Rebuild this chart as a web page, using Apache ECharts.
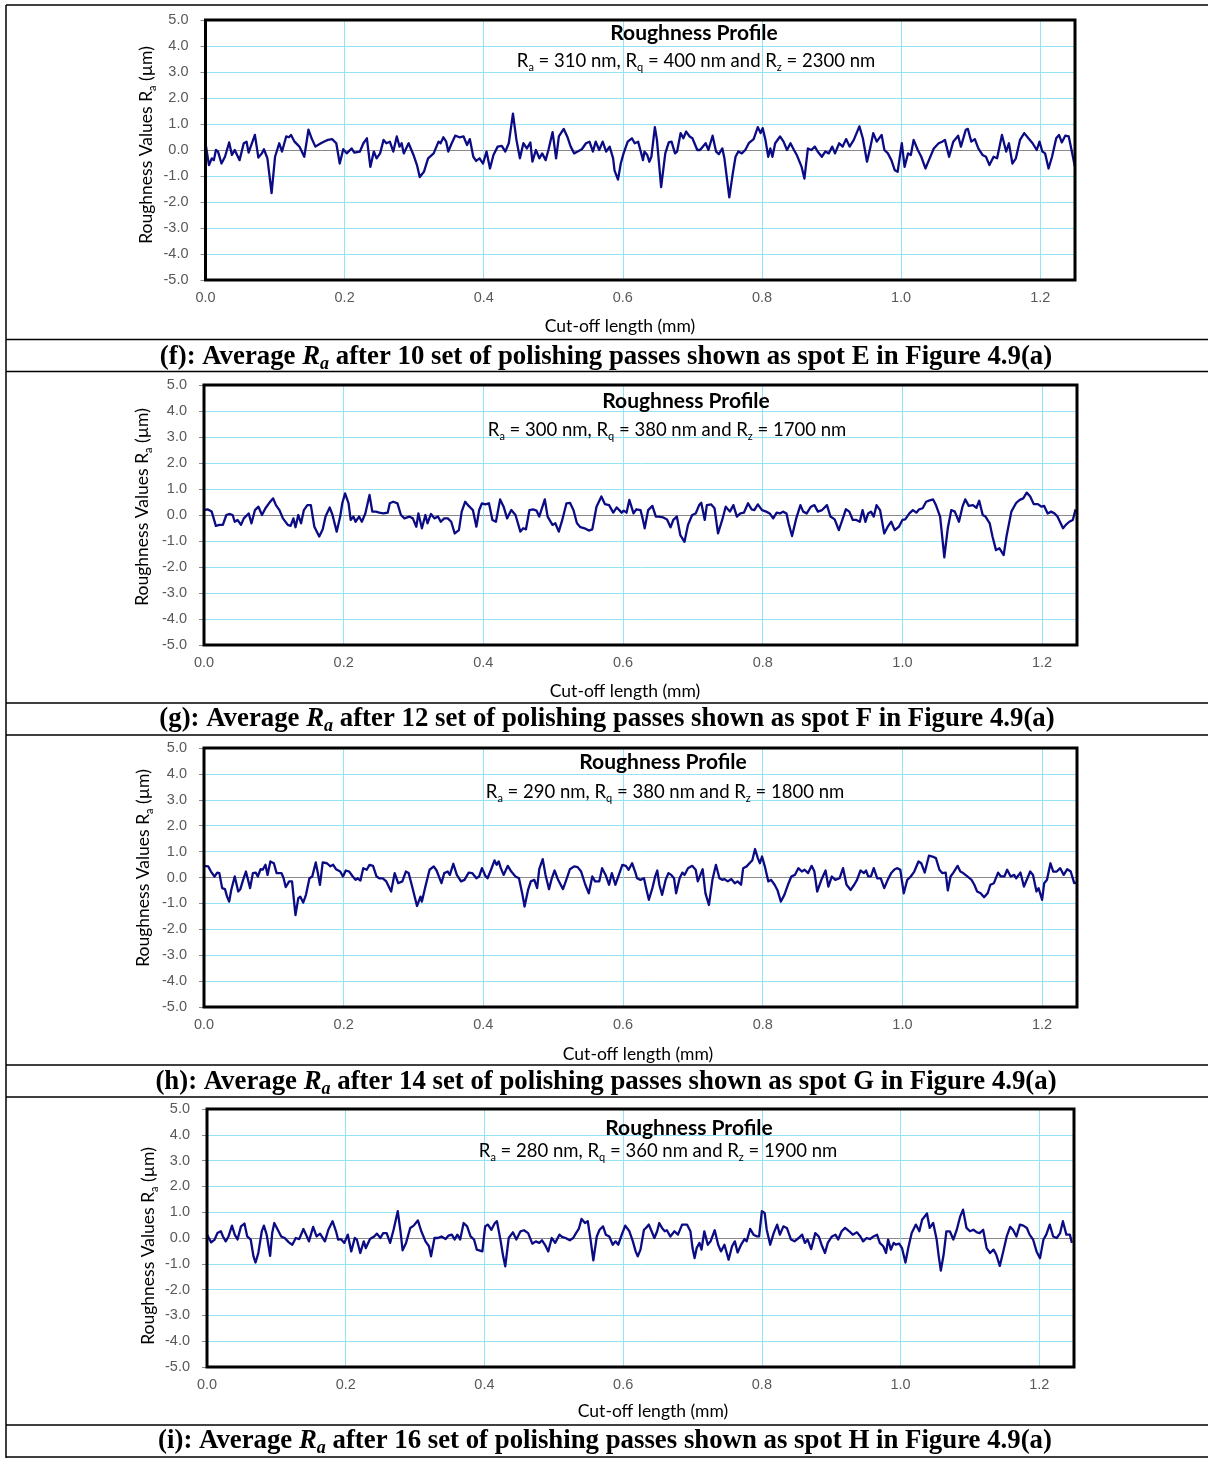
<!DOCTYPE html>
<html>
<head>
<meta charset="utf-8">
<script src="https://cdn.jsdelivr.net/npm/echarts@6/dist/echarts.min.js"></script>
<style>
  html, body { margin: 0; padding: 0; background: #fff; }
  #chart { width: 1208px; height: 1458px; }
</style>
</head>
<body>
<div id="chart"></div>
<script>
// Surface roughness profiles: [cut-off length (mm), roughness (µm)]
const spotE = [
  [0.000,0.26],[0.005,-0.58],[0.009,-0.32],[0.012,-0.39],[0.015,0.00],[0.018,-0.06],[0.023,-0.52],[0.028,-0.26],[0.034,0.29],[0.038,-0.19],
  [0.042,0.00],[0.049,-0.39],[0.055,0.26],[0.059,0.32],[0.062,-0.10],[0.065,0.13],[0.071,0.58],[0.076,-0.29],[0.081,-0.13],[0.084,0.03],
  [0.089,-0.32],[0.095,-1.66],[0.100,-0.26],[0.106,0.26],[0.110,-0.06],[0.116,0.52],[0.120,0.49],[0.123,0.58],[0.128,0.32],[0.135,0.13],
  [0.142,-0.26],[0.148,0.78],[0.153,0.42],[0.158,0.13],[0.164,0.23],[0.170,0.32],[0.176,0.39],[0.182,0.42],[0.188,0.26],[0.193,-0.52],
  [0.198,0.03],[0.203,-0.13],[0.210,0.06],[0.214,-0.10],[0.222,-0.06],[0.227,0.26],[0.232,0.45],[0.237,-0.65],[0.242,-0.06],[0.246,-0.32],
  [0.251,-0.13],[0.256,0.39],[0.260,0.26],[0.265,0.32],[0.270,-0.06],[0.275,0.52],[0.279,0.13],[0.282,0.26],[0.285,-0.13],[0.292,0.26],
  [0.299,-0.19],[0.304,-0.58],[0.308,-1.04],[0.314,-0.84],[0.320,-0.32],[0.328,-0.13],[0.335,0.32],[0.338,0.26],[0.342,0.49],[0.346,0.32],
  [0.349,-0.06],[0.354,0.26],[0.359,0.55],[0.365,0.49],[0.371,0.52],[0.376,0.19],[0.380,0.42],[0.385,-0.26],[0.389,-0.42],[0.394,-0.32],
  [0.399,-0.52],[0.404,-0.06],[0.409,-0.71],[0.414,-0.19],[0.420,0.13],[0.426,0.16],[0.431,-0.06],[0.436,0.26],[0.442,1.40],[0.447,0.39],
  [0.452,-0.32],[0.457,0.26],[0.462,0.06],[0.467,0.29],[0.470,-0.45],[0.475,0.00],[0.480,-0.32],[0.484,-0.13],[0.489,-0.39],[0.493,0.00],
  [0.499,0.69],[0.504,-0.32],[0.508,0.52],[0.515,0.81],[0.520,0.52],[0.525,0.13],[0.530,-0.13],[0.535,-0.06],[0.541,0.03],[0.547,0.26],
  [0.552,0.32],[0.557,-0.06],[0.561,0.32],[0.566,0.00],[0.571,0.32],[0.576,-0.06],[0.581,0.13],[0.586,-0.32],[0.588,-0.78],[0.593,-1.14],
  [0.597,-0.52],[0.601,-0.13],[0.607,0.32],[0.613,0.45],[0.617,0.26],[0.622,0.32],[0.629,-0.39],[0.631,-0.06],[0.635,-0.19],[0.638,-0.45],
  [0.641,-0.26],[0.646,0.88],[0.649,0.39],[0.655,-1.43],[0.661,-0.13],[0.666,0.29],[0.670,0.32],[0.675,-0.13],[0.678,-0.06],[0.683,0.65],
  [0.687,0.45],[0.691,0.71],[0.696,0.52],[0.700,0.45],[0.707,0.00],[0.711,0.00],[0.719,0.26],[0.723,0.00],[0.729,0.55],[0.734,-0.06],
  [0.738,-0.16],[0.743,0.06],[0.746,-0.32],[0.753,-1.82],[0.758,-0.91],[0.762,-0.26],[0.766,-0.06],[0.771,-0.13],[0.776,0.00],[0.781,0.26],
  [0.788,0.42],[0.794,0.88],[0.798,0.65],[0.801,0.84],[0.805,0.39],[0.809,-0.26],[0.812,0.06],[0.815,-0.26],[0.819,0.26],[0.826,0.52],
  [0.831,0.32],[0.836,0.00],[0.841,0.26],[0.846,0.00],[0.850,-0.19],[0.857,-0.65],[0.861,-1.10],[0.866,0.06],[0.871,0.00],[0.876,0.13],
  [0.880,-0.06],[0.886,-0.26],[0.891,-0.06],[0.896,-0.13],[0.901,0.13],[0.905,-0.13],[0.911,0.26],[0.916,0.13],[0.921,0.42],[0.926,0.13],
  [0.932,0.39],[0.940,0.91],[0.945,0.45],[0.951,-0.45],[0.956,0.13],[0.960,0.65],[0.965,0.32],[0.972,0.58],[0.976,0.00],[0.981,-0.13],
  [0.986,-0.39],[0.991,-0.78],[0.995,-0.84],[1.001,0.26],[1.005,-0.65],[1.010,-0.13],[1.014,-0.19],[1.018,0.39],[1.024,0.00],[1.029,-0.26],
  [1.035,-0.71],[1.040,-0.39],[1.047,0.06],[1.054,0.26],[1.059,0.32],[1.063,0.39],[1.069,-0.26],[1.075,0.32],[1.082,0.55],[1.086,0.13],
  [1.093,0.78],[1.096,0.81],[1.101,0.32],[1.106,0.42],[1.111,0.06],[1.117,-0.19],[1.122,-0.26],[1.127,-0.58],[1.133,-0.26],[1.138,-0.32],
  [1.145,0.58],[1.151,-0.06],[1.155,0.26],[1.160,-0.52],[1.165,-0.32],[1.171,0.39],[1.177,0.65],[1.183,0.45],[1.189,0.26],[1.195,0.00],
  [1.199,0.32],[1.203,-0.06],[1.207,-0.13],[1.212,-0.71],[1.217,-0.26],[1.223,0.45],[1.227,0.58],[1.231,0.29],[1.236,0.55],[1.241,0.52],
  [1.245,0.00],[1.250,-0.65]
];

const spotF = [
  [0.000,0.19],[0.005,0.22],[0.011,0.13],[0.017,-0.42],[0.022,-0.38],[0.027,-0.38],[0.032,0.00],[0.036,0.04],[0.041,0.00],[0.044,-0.26],
  [0.048,-0.19],[0.053,-0.38],[0.057,-0.13],[0.064,0.06],[0.068,-0.32],[0.073,0.19],[0.078,0.32],[0.083,0.00],[0.088,0.26],[0.093,0.45],
  [0.099,0.64],[0.103,0.38],[0.108,0.19],[0.113,-0.13],[0.120,-0.38],[0.124,-0.42],[0.128,-0.13],[0.131,-0.47],[0.135,0.00],[0.139,-0.32],
  [0.143,0.19],[0.148,0.38],[0.153,0.38],[0.158,-0.45],[0.165,-0.83],[0.170,-0.55],[0.174,-0.06],[0.180,0.29],[0.184,0.00],[0.190,-0.64],
  [0.195,-0.06],[0.198,0.45],[0.202,0.83],[0.207,0.45],[0.210,-0.19],[0.214,-0.06],[0.217,-0.26],[0.222,-0.06],[0.226,-0.26],[0.231,0.06],
  [0.237,0.77],[0.241,0.13],[0.246,0.13],[0.251,0.09],[0.257,0.06],[0.263,0.09],[0.266,0.45],[0.271,0.51],[0.277,0.45],[0.282,0.00],
  [0.287,-0.13],[0.294,-0.06],[0.299,-0.13],[0.304,-0.45],[0.307,0.06],[0.312,-0.51],[0.317,0.00],[0.320,-0.32],[0.325,0.04],[0.330,-0.13],
  [0.335,-0.06],[0.339,-0.26],[0.344,-0.13],[0.349,-0.13],[0.354,-0.26],[0.359,-0.71],[0.365,-0.58],[0.369,0.13],[0.374,0.51],[0.379,0.35],
  [0.385,0.19],[0.390,-0.45],[0.394,0.19],[0.398,0.45],[0.403,0.41],[0.408,0.45],[0.413,-0.19],[0.418,-0.26],[0.424,0.60],[0.429,0.32],
  [0.434,-0.13],[0.440,0.19],[0.446,0.00],[0.453,-0.64],[0.457,-0.51],[0.461,-0.55],[0.466,0.19],[0.471,0.22],[0.476,0.17],[0.480,-0.06],
  [0.488,0.60],[0.492,-0.06],[0.499,-0.38],[0.503,-0.32],[0.508,-0.64],[0.513,-0.19],[0.519,0.45],[0.524,0.47],[0.529,0.19],[0.534,-0.32],
  [0.539,-0.47],[0.545,-0.51],[0.551,-0.60],[0.556,-0.55],[0.562,0.32],[0.569,0.71],[0.574,0.42],[0.580,0.38],[0.586,0.09],[0.591,0.29],
  [0.598,0.09],[0.601,0.17],[0.605,0.09],[0.609,0.58],[0.615,0.06],[0.619,0.22],[0.625,0.19],[0.628,-0.13],[0.631,-0.51],[0.636,0.19],
  [0.642,0.35],[0.647,-0.06],[0.651,-0.06],[0.657,-0.09],[0.663,-0.17],[0.668,-0.47],[0.672,-0.19],[0.677,-0.06],[0.682,-0.77],[0.688,-1.03],
  [0.693,-0.38],[0.699,0.00],[0.704,0.06],[0.709,0.38],[0.712,0.47],[0.717,-0.19],[0.720,0.38],[0.726,0.41],[0.731,0.26],[0.736,-0.71],
  [0.742,-0.19],[0.747,0.32],[0.753,0.13],[0.758,0.38],[0.763,-0.06],[0.768,0.06],[0.773,0.09],[0.779,0.45],[0.784,0.22],[0.788,0.19],
  [0.793,0.41],[0.799,0.19],[0.805,0.13],[0.810,0.06],[0.815,-0.13],[0.820,0.09],[0.825,0.06],[0.829,0.13],[0.834,0.06],[0.837,-0.32],
  [0.842,-0.81],[0.848,-0.13],[0.854,0.38],[0.858,0.13],[0.863,0.06],[0.869,0.32],[0.874,0.38],[0.879,0.13],[0.885,0.19],[0.892,0.38],
  [0.897,-0.06],[0.903,-0.17],[0.909,-0.58],[0.914,-0.19],[0.919,0.22],[0.924,0.13],[0.929,-0.19],[0.934,-0.19],[0.939,-0.26],[0.943,0.19],
  [0.947,-0.26],[0.951,0.06],[0.955,0.13],[0.959,-0.06],[0.963,0.38],[0.968,0.19],[0.974,-0.71],[0.979,-0.45],[0.984,-0.26],[0.989,-0.58],
  [0.995,-0.45],[1.000,-0.19],[1.004,-0.17],[1.010,0.06],[1.015,0.19],[1.020,0.09],[1.024,0.22],[1.029,0.26],[1.034,0.51],[1.038,0.55],
  [1.044,0.60],[1.048,0.38],[1.054,-0.06],[1.057,-0.83],[1.060,-1.63],[1.065,-0.51],[1.070,0.19],[1.075,0.13],[1.081,-0.26],[1.086,0.32],
  [1.090,0.60],[1.095,0.35],[1.101,0.38],[1.106,0.28],[1.110,0.55],[1.115,0.00],[1.119,-0.06],[1.125,-0.32],[1.129,-0.83],[1.134,-1.35],
  [1.139,-1.28],[1.145,-1.54],[1.149,-0.83],[1.156,0.13],[1.163,0.47],[1.168,0.58],[1.173,0.64],[1.178,0.86],[1.183,0.71],[1.188,0.42],
  [1.194,0.42],[1.199,0.32],[1.203,0.35],[1.208,0.06],[1.213,0.13],[1.218,0.06],[1.222,-0.06],[1.230,-0.51],[1.234,-0.38],[1.239,-0.26],
  [1.244,-0.19],[1.248,0.22]
];

const spotG = [
  [0.000,0.45],[0.006,0.43],[0.010,0.23],[0.015,0.04],[0.019,0.19],[0.022,0.17],[0.026,-0.41],[0.030,-0.45],[0.033,-0.74],[0.036,-0.93],
  [0.039,-0.48],[0.044,0.04],[0.049,-0.54],[0.052,-0.45],[0.056,-0.09],[0.060,0.23],[0.063,-0.09],[0.066,-0.41],[0.070,0.17],[0.074,0.19],
  [0.077,0.04],[0.081,0.32],[0.084,0.30],[0.088,0.49],[0.091,0.10],[0.095,0.62],[0.100,0.55],[0.104,0.17],[0.111,0.17],[0.114,-0.03],
  [0.117,-0.37],[0.122,-0.15],[0.126,-0.15],[0.131,-1.45],[0.135,-0.80],[0.138,-0.74],[0.142,-0.97],[0.146,-0.67],[0.151,-0.03],[0.155,0.04],
  [0.160,0.58],[0.163,0.17],[0.166,-0.28],[0.170,0.58],[0.176,0.55],[0.181,0.43],[0.185,0.49],[0.189,0.32],[0.195,0.23],[0.199,0.04],
  [0.203,0.27],[0.208,0.23],[0.213,0.04],[0.217,-0.09],[0.220,-0.03],[0.224,-0.12],[0.228,0.36],[0.233,0.30],[0.237,0.49],[0.242,0.45],
  [0.247,0.04],[0.251,-0.03],[0.256,-0.03],[0.261,-0.15],[0.268,-0.54],[0.273,0.17],[0.278,-0.22],[0.284,-0.15],[0.289,0.23],[0.293,0.17],
  [0.298,-0.35],[0.305,-1.10],[0.310,-0.74],[0.312,-0.93],[0.317,-0.35],[0.323,0.30],[0.329,0.43],[0.333,0.27],[0.340,-0.22],[0.344,0.17],
  [0.349,0.23],[0.352,0.10],[0.357,0.53],[0.362,0.10],[0.368,-0.15],[0.373,-0.09],[0.379,0.19],[0.384,0.17],[0.390,-0.03],[0.394,0.04],
  [0.398,0.36],[0.403,0.06],[0.406,-0.03],[0.411,0.30],[0.416,0.66],[0.419,0.49],[0.422,0.62],[0.425,0.36],[0.429,0.10],[0.435,0.45],
  [0.440,0.23],[0.446,0.04],[0.451,-0.03],[0.456,-0.67],[0.459,-1.12],[0.464,-0.48],[0.468,-0.15],[0.473,-0.09],[0.477,-0.41],[0.480,0.32],
  [0.485,0.71],[0.489,0.10],[0.494,-0.45],[0.498,-0.03],[0.502,0.27],[0.507,-0.09],[0.514,-0.45],[0.518,-0.15],[0.524,0.32],[0.530,0.43],
  [0.535,0.40],[0.540,0.23],[0.546,-0.28],[0.551,-0.61],[0.556,0.04],[0.560,-0.15],[0.566,-0.15],[0.570,0.36],[0.575,0.10],[0.580,-0.28],
  [0.584,0.17],[0.589,-0.28],[0.594,0.10],[0.599,0.49],[0.604,0.45],[0.608,0.30],[0.613,0.55],[0.618,0.17],[0.620,-0.03],[0.625,-0.09],
  [0.630,-0.03],[0.633,-0.41],[0.637,-0.86],[0.642,-0.41],[0.646,0.04],[0.649,0.27],[0.652,-0.28],[0.656,-0.67],[0.661,-0.09],[0.665,0.17],
  [0.669,0.10],[0.673,-0.03],[0.676,-0.61],[0.681,-0.03],[0.685,0.19],[0.688,0.10],[0.693,0.36],[0.699,0.45],[0.704,0.30],[0.707,-0.15],
  [0.714,0.32],[0.718,-0.61],[0.723,-1.06],[0.728,-0.09],[0.733,0.49],[0.738,-0.03],[0.742,-0.09],[0.745,-0.06],[0.750,-0.15],[0.755,-0.06],
  [0.760,-0.22],[0.764,-0.15],[0.769,-0.28],[0.772,0.36],[0.777,0.43],[0.782,0.58],[0.785,0.66],[0.789,1.10],[0.793,0.75],[0.796,0.55],
  [0.799,0.81],[0.803,0.43],[0.808,-0.15],[0.812,-0.09],[0.817,-0.28],[0.821,-0.48],[0.826,-0.93],[0.831,-0.67],[0.837,-0.22],[0.841,0.04],
  [0.846,0.10],[0.851,0.36],[0.856,0.23],[0.860,0.30],[0.865,0.17],[0.870,0.45],[0.874,0.23],[0.878,-0.54],[0.884,-0.09],[0.890,0.27],
  [0.894,-0.35],[0.899,0.04],[0.904,-0.09],[0.910,-0.03],[0.915,0.36],[0.920,-0.28],[0.926,-0.48],[0.931,-0.28],[0.935,-0.09],[0.940,0.27],
  [0.945,0.17],[0.948,0.27],[0.951,0.04],[0.955,0.04],[0.959,0.36],[0.964,-0.03],[0.969,-0.03],[0.974,-0.41],[0.979,-0.09],[0.984,0.17],
  [0.989,0.32],[0.993,0.36],[0.997,0.30],[1.002,-0.61],[1.007,-0.09],[1.012,0.04],[1.017,0.23],[1.023,0.62],[1.027,0.55],[1.032,0.19],
  [1.038,0.84],[1.043,0.81],[1.048,0.75],[1.053,0.30],[1.057,0.17],[1.062,0.19],[1.065,-0.50],[1.069,0.04],[1.073,0.19],[1.079,0.45],
  [1.083,0.23],[1.087,0.17],[1.093,0.04],[1.099,-0.09],[1.103,-0.28],[1.107,-0.54],[1.112,-0.61],[1.117,-0.76],[1.122,-0.61],[1.126,-0.28],
  [1.131,-0.22],[1.137,0.19],[1.141,0.04],[1.146,0.04],[1.150,0.30],[1.155,0.04],[1.160,0.10],[1.163,-0.03],[1.169,0.19],[1.174,-0.35],
  [1.179,-0.03],[1.183,0.23],[1.187,0.10],[1.192,-0.54],[1.195,-0.41],[1.200,-0.86],[1.203,-0.22],[1.207,-0.09],[1.212,0.55],[1.216,0.23],
  [1.221,0.23],[1.226,0.36],[1.231,0.10],[1.236,0.32],[1.241,0.23],[1.246,-0.22],[1.250,-0.20]
];

const spotH = [
  [0.000,0.13],[0.002,0.16],[0.006,-0.17],[0.011,-0.06],[0.015,0.19],[0.020,0.26],[0.023,0.06],[0.027,-0.13],[0.031,0.06],[0.036,0.48],
  [0.040,0.13],[0.044,-0.06],[0.049,0.45],[0.054,0.56],[0.058,0.06],[0.063,-0.06],[0.067,-0.71],[0.070,-0.95],[0.074,-0.58],[0.079,0.26],
  [0.082,0.48],[0.086,0.13],[0.091,-0.69],[0.094,0.19],[0.097,0.58],[0.102,0.32],[0.107,0.06],[0.112,0.00],[0.118,-0.17],[0.123,-0.26],
  [0.128,0.00],[0.133,-0.04],[0.139,0.35],[0.144,0.06],[0.147,-0.13],[0.153,0.43],[0.158,0.06],[0.163,0.17],[0.170,-0.13],[0.175,0.32],
  [0.181,0.65],[0.186,0.26],[0.189,-0.06],[0.193,-0.04],[0.198,-0.19],[0.203,0.13],[0.208,-0.52],[0.213,0.00],[0.216,-0.06],[0.221,-0.58],
  [0.226,-0.13],[0.229,-0.39],[0.235,-0.04],[0.241,0.06],[0.245,0.17],[0.250,0.00],[0.254,0.19],[0.259,0.19],[0.264,-0.19],[0.269,0.32],
  [0.275,1.04],[0.279,0.26],[0.282,-0.48],[0.287,-0.19],[0.293,0.39],[0.298,0.48],[0.304,0.68],[0.309,0.26],[0.315,-0.13],[0.320,-0.32],
  [0.323,-0.71],[0.328,0.00],[0.333,0.00],[0.338,0.06],[0.344,-0.04],[0.348,0.09],[0.353,0.13],[0.357,-0.06],[0.361,0.13],[0.365,-0.06],
  [0.370,0.58],[0.375,0.45],[0.380,0.06],[0.385,-0.06],[0.389,-0.45],[0.397,-0.52],[0.401,0.45],[0.405,0.52],[0.410,0.32],[0.415,0.58],
  [0.418,0.65],[0.423,-0.06],[0.427,-0.71],[0.430,-1.10],[0.435,0.00],[0.441,0.22],[0.446,-0.06],[0.452,0.26],[0.457,0.30],[0.463,0.19],
  [0.469,-0.22],[0.474,-0.13],[0.479,-0.19],[0.483,-0.09],[0.488,-0.30],[0.492,-0.52],[0.497,0.00],[0.502,-0.19],[0.508,0.13],[0.512,0.04],
  [0.517,0.00],[0.523,-0.09],[0.528,0.00],[0.532,0.19],[0.536,0.35],[0.540,0.74],[0.545,0.58],[0.549,0.65],[0.553,-0.06],[0.557,-0.87],
  [0.562,0.06],[0.566,0.32],[0.571,0.45],[0.575,0.13],[0.580,0.06],[0.585,-0.26],[0.589,-0.13],[0.593,-0.26],[0.598,0.13],[0.603,0.48],
  [0.609,0.26],[0.614,-0.13],[0.618,-0.52],[0.621,-0.71],[0.625,-0.45],[0.630,0.32],[0.633,0.39],[0.637,0.52],[0.641,0.26],[0.645,0.00],
  [0.649,0.26],[0.652,0.58],[0.656,0.39],[0.660,0.26],[0.663,0.30],[0.668,0.06],[0.674,0.26],[0.679,0.13],[0.685,0.52],[0.692,0.52],
  [0.697,0.26],[0.700,-0.39],[0.703,-0.78],[0.706,-0.39],[0.710,-0.19],[0.713,-0.45],[0.717,0.26],[0.722,-0.26],[0.726,-0.13],[0.732,0.30],
  [0.737,-0.26],[0.741,-0.52],[0.746,-0.26],[0.752,-0.84],[0.757,-0.32],[0.761,-0.13],[0.765,-0.56],[0.770,-0.26],[0.775,-0.04],[0.778,-0.13],
  [0.783,0.35],[0.788,0.13],[0.793,0.06],[0.796,0.06],[0.800,1.04],[0.804,0.97],[0.807,0.32],[0.812,-0.26],[0.817,0.19],[0.822,0.52],
  [0.826,0.13],[0.831,0.45],[0.836,0.39],[0.842,-0.06],[0.847,-0.13],[0.853,0.00],[0.858,0.13],[0.862,-0.19],[0.866,-0.06],[0.871,-0.43],
  [0.877,0.19],[0.882,0.06],[0.886,-0.26],[0.891,-0.58],[0.895,-0.19],[0.901,0.06],[0.906,0.13],[0.910,-0.06],[0.915,0.26],[0.920,0.39],
  [0.926,0.26],[0.931,0.13],[0.937,0.22],[0.942,0.06],[0.946,-0.13],[0.951,0.00],[0.956,-0.04],[0.961,0.06],[0.966,0.13],[0.970,-0.19],
  [0.975,-0.32],[0.979,-0.58],[0.982,-0.06],[0.986,-0.45],[0.990,-0.19],[0.993,-0.26],[0.998,-0.22],[1.002,-0.39],[1.007,-0.95],[1.011,-0.39],
  [1.016,0.19],[1.022,0.52],[1.027,0.26],[1.031,0.71],[1.038,0.95],[1.042,0.39],[1.047,0.58],[1.052,-0.06],[1.055,-0.71],[1.058,-1.26],
  [1.062,-0.65],[1.066,0.26],[1.071,0.26],[1.076,-0.06],[1.081,0.32],[1.086,0.84],[1.090,1.10],[1.095,0.39],[1.100,0.26],[1.105,0.32],
  [1.110,0.22],[1.114,0.19],[1.119,0.32],[1.124,-0.39],[1.129,-0.58],[1.134,-0.45],[1.138,-0.65],[1.143,-1.08],[1.148,-0.52],[1.153,0.06],
  [1.158,0.43],[1.162,0.32],[1.167,0.06],[1.172,0.52],[1.177,0.48],[1.182,0.39],[1.186,0.13],[1.191,-0.06],[1.196,-0.52],[1.201,-0.78],
  [1.206,-0.06],[1.210,0.13],[1.215,0.52],[1.220,0.06],[1.225,0.00],[1.230,0.19],[1.234,0.65],[1.239,0.13],[1.244,0.13],[1.247,-0.19]
];

// Axis ticks
const xTicks = [0.0, 0.2, 0.4, 0.6, 0.8, 1.0, 1.2];
const yTicks = [-5.0, -4.0, -3.0, -2.0, -1.0, 0.0, 1.0, 2.0, 3.0, 4.0, 5.0];

// Per-panel annotation text
const panelTags = ['(f)', '(g)', '(h)', '(i)'];
const passCounts = ['10', '12', '14', '16'];
const spotNames = ['E', 'F', 'G', 'H'];
const raValues = ['310', '300', '290', '280'];
const rqValues = ['400', '380', '380', '360'];
const rzValues = ['2300', '1700', '1800', '1900'];

const profiles = [spotE, spotF, spotG, spotH];

// Page layout for the four table rows
const layout = [
  { plot: [205.5, 20, 869.5, 260], title: [694, 33], sub: [696, 61], yName: [146, 145], xName: [620, 326], caption: [606, 357] },
  { plot: [204, 385, 873, 260],    title: [686, 401], sub: [667, 430], yName: [142, 507], xName: [625, 691], caption: [607, 719] },
  { plot: [204, 748, 873, 259],    title: [663, 762], sub: [665, 792], yName: [143, 868], xName: [638, 1054], caption: [606, 1082] },
  { plot: [207, 1109, 867, 258],   title: [689, 1128], sub: [658, 1151], yName: [148, 1246], xName: [653, 1411], caption: [605, 1441] }
];
const tableRules = [5, 339.5, 371.5, 703, 735, 1065, 1097, 1425, 1457];

const GRID_CYAN = '#93e3f7';
const ZERO_GREY = '#8a8a8a';
const LABEL_GREY = '#595959';
const PROFILE_BLUE = '#0b0b84';
const SANS = 'Lato';
const TICK_FONT = 'Liberation Sans';
const SERIF = 'Liberation Serif';

const splitColors = yTicks.map(v => (v === 0 ? ZERO_GREY : GRID_CYAN));

const subRich = (size, weight) => ({
  n: { fontFamily: SANS, fontSize: size, fontWeight: weight, fill: '#000', lineHeight: size + 6, verticalAlign: 'middle' },
  s: { fontFamily: SANS, fontSize: Math.round(size * 0.62), fontWeight: weight, fill: '#000', lineHeight: size + 6, verticalAlign: 'bottom' }
});

const grids = [], xAxes = [], yAxes = [], series = [], graphics = [];

layout.forEach((p, i) => {
  const [l, t, w, h] = p.plot;
  grids.push({ left: l, top: t, width: w, height: h, containLabel: false });
  xAxes.push({
    gridIndex: i, type: 'value', min: xTicks[0], max: 1.25, interval: 0.2,
    axisLine: { show: false }, axisTick: { show: false },
    axisLabel: {
      margin: 10, fontFamily: TICK_FONT, fontSize: 14.5, color: LABEL_GREY,
      formatter: v => (xTicks.some(t => Math.abs(t - v) < 1e-6) ? v.toFixed(1) : '')
    },
    splitLine: { show: true, lineStyle: { color: GRID_CYAN, width: 1 } }
  });
  yAxes.push({
    gridIndex: i, type: 'value', min: yTicks[0], max: yTicks[yTicks.length - 1], interval: 1,
    axisLine: { show: false },
    axisTick: { show: true, length: 5, lineStyle: { color: ZERO_GREY, width: 1 } },
    axisLabel: { margin: 17, fontFamily: TICK_FONT, fontSize: 14.5, color: LABEL_GREY, formatter: v => v.toFixed(1) },
    splitLine: { show: true, lineStyle: { color: splitColors, width: 1 } }
  });
  series.push({
    type: 'line', xAxisIndex: i, yAxisIndex: i, data: profiles[i],
    showSymbol: false, symbol: 'none', silent: true,
    lineStyle: { color: PROFILE_BLUE, width: 2.3, join: 'round' }, z: 3
  });

  // plot frame
  graphics.push({
    type: 'rect', z: 50, silent: true,
    shape: { x: l, y: t, width: w, height: h },
    style: { fill: 'none', stroke: '#000', lineWidth: 3 }
  });
  // chart title and roughness summary
  graphics.push({
    type: 'text', z: 60, x: p.title[0], y: p.title[1],
    style: { text: 'Roughness Profile', fontFamily: SANS, fontWeight: 'bold', fontSize: 21, fill: '#000', align: 'center', verticalAlign: 'middle' }
  });
  graphics.push({
    type: 'text', z: 60, x: p.sub[0], y: p.sub[1],
    style: {
      text: '{n|R}{s|a}{n| = ' + raValues[i] + ' nm, R}{s|q}{n| = ' + rqValues[i] + ' nm and R}{s|z}{n| = ' + rzValues[i] + ' nm}',
      align: 'center', verticalAlign: 'middle', rich: subRich(18.5, 'normal')
    }
  });
  // axis titles
  graphics.push({
    type: 'text', z: 60, x: p.yName[0], y: p.yName[1], rotation: Math.PI / 2,
    style: {
      text: '{n|Roughness Values R}{s|a}{n| (µm)}',
      align: 'center', verticalAlign: 'middle', rich: subRich(17.5, 'normal')
    }
  });
  graphics.push({
    type: 'text', z: 60, x: p.xName[0], y: p.xName[1],
    style: { text: 'Cut-off length (mm)', fontFamily: SANS, fontSize: 17.5, fill: '#000', align: 'center', verticalAlign: 'middle' }
  });
  // caption row
  graphics.push({
    type: 'text', z: 60, x: p.caption[0], y: p.caption[1],
    style: {
      text: '{b|' + panelTags[i] + ': Average }{i|R}{is|a}{b| after ' + passCounts[i] +
            ' set of polishing passes shown as spot ' + spotNames[i] + ' in Figure 4.9(a)}',
      align: 'center', verticalAlign: 'middle',
      rich: {
        b: { fontFamily: SERIF, fontSize: 26.8, fontWeight: 'bold', fill: '#000', lineHeight: 32, verticalAlign: 'middle' },
        i: { fontFamily: SERIF, fontSize: 26.8, fontWeight: 'bold', fontStyle: 'italic', fill: '#000', lineHeight: 32, verticalAlign: 'middle' },
        is: { fontFamily: SERIF, fontSize: 18, fontWeight: 'bold', fontStyle: 'italic', fill: '#000', lineHeight: 32, verticalAlign: 'bottom' }
      }
    }
  });
});

// table rules
tableRules.forEach(y => {
  graphics.push({ type: 'line', z: 40, silent: true, shape: { x1: 6, y1: y, x2: 1208, y2: y }, style: { stroke: '#000', lineWidth: 1.5 } });
});
graphics.push({ type: 'line', z: 40, silent: true, shape: { x1: 6, y1: 5, x2: 6, y2: 1458 }, style: { stroke: '#000', lineWidth: 1.5 } });

const chart = echarts.init(document.getElementById('chart'), null, { renderer: 'canvas' });
chart.setOption({
  backgroundColor: '#fff',
  animation: false,
  grid: grids,
  xAxis: xAxes,
  yAxis: yAxes,
  series: series,
  graphic: graphics
});
</script>
</body>
</html>
